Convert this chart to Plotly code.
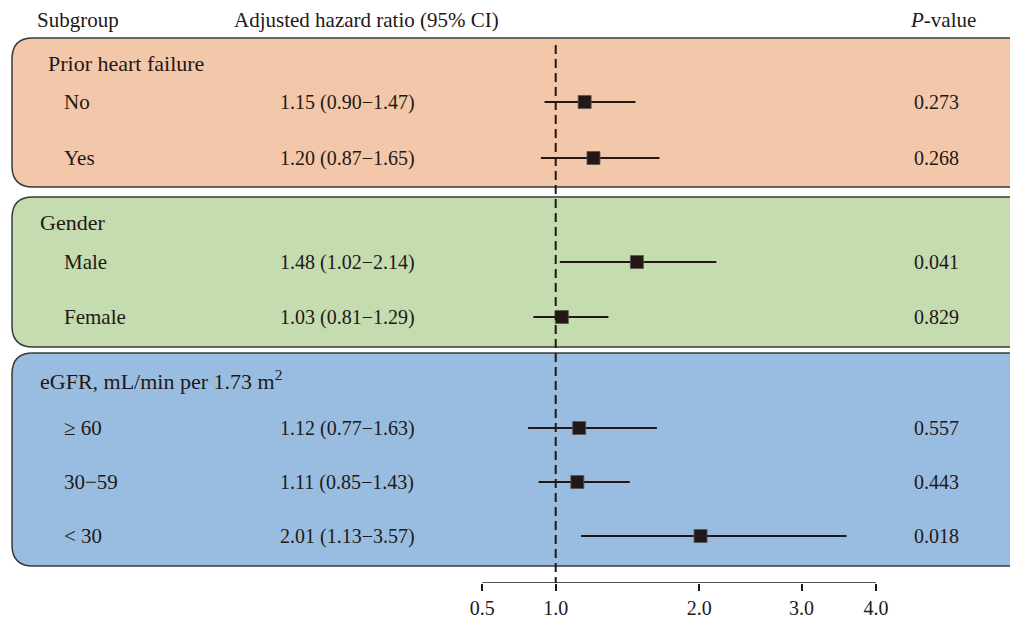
import numpy as np
import plotly.graph_objects as go

# ---------------- data ----------------
groups = ["Prior heart failure", "Gender", "eGFR, mL/min per 1.73 m<sup>2</sup>"]
subgroups = ["No", "Yes", "Male", "Female", "≥ 60", "30−59", "< 30"]
subgroup_group = [0, 0, 1, 1, 2, 2, 2]
hr = [1.15, 1.20, 1.48, 1.03, 1.12, 1.11, 2.01]
ci_low = [0.90, 0.87, 1.02, 0.81, 0.77, 0.85, 1.13]
ci_high = [1.47, 1.65, 2.14, 1.29, 1.63, 1.43, 3.57]
p_values = ["0.273", "0.268", "0.041", "0.829", "0.557", "0.443", "0.018"]
tick_values = [0.5, 1.0, 2.0, 3.0, 4.0]
tick_labels = ["0.5", "1.0", "2.0", "3.0", "4.0"]

# ---------------- scale (piecewise-log axis as in the original) ----------------
tick_px = [482.3, 555.7, 699.3, 801.5, 876.0]


def xs(v):
    return float(np.interp(np.log(v), np.log(tick_values), tick_px))


# layout positions (screen pixels from top-left)
group_y = [63, 222, 380]
group_x = [46, 38, 38]
row_y = [102, 158, 262, 317, 428, 482, 536]
panels = [(12, 38, 1030, 187, "#F3C7A9"), (12, 197, 1030, 347, "#C4DCB0"), (12, 353, 1030, 566, "#99BDE0")]

FONT = "Liberation Serif"
TXT = "#231815"
OFF = 8                    # page body margin offset
W, H = 1018 - OFF, 619 - OFF
AX_Y = 583

fig = go.Figure()


def rr(x0, y0, x1, y1, r):
    return (f"M {x0+r},{y0} L {x1-r},{y0} Q {x1},{y0} {x1},{y0+r} L {x1},{y1-r} "
            f"Q {x1},{y1} {x1-r},{y1} L {x0+r},{y1} Q {x0},{y1} {x0},{y1-r} "
            f"L {x0},{y0+r} Q {x0},{y0} {x0+r},{y0} Z")


shapes = []
for (x0, y0, x1, y1, c) in panels:
    shapes.append(dict(type="path", path=rr(x0, y0, x1, y1, 21), xref="x", yref="y",
                       fillcolor=c, line=dict(color="#3a3a3a", width=1.5), layer="below"))
# reference line at HR = 1
shapes.append(dict(type="line", x0=xs(1.0), x1=xs(1.0), y0=45, y1=AX_Y, xref="x", yref="y",
                   line=dict(color="#231815", width=2, dash="9px,5px")))
# axis line
shapes.append(dict(type="line", x0=xs(tick_values[0]), x1=xs(tick_values[-1]), y0=AX_Y, y1=AX_Y,
                   xref="x", yref="y", line=dict(color="#231815", width=1.5)))

# CI lines
lx, ly = [], []
for lo, hi, y in zip(ci_low, ci_high, row_y):
    lx += [xs(lo), xs(hi), None]
    ly += [y, y, None]
fig.add_trace(go.Scatter(x=lx, y=ly, mode="lines", line=dict(color=TXT, width=1.8),
                         hoverinfo="skip", showlegend=False))
fig.add_trace(go.Scatter(x=[xs(v) for v in hr], y=row_y, mode="markers",
                         marker=dict(symbol="square", size=13, color=TXT,
                                     line=dict(color="#555555", width=0.8)),
                         showlegend=False))

ann = []


def text(x, y, s, anchor="left", size=22):
    ann.append(dict(x=x, y=y, xref="x", yref="y", text=s, showarrow=False,
                    xanchor=anchor, yanchor="middle",
                    font=dict(family=FONT, size=size, color=TXT)))


text(35, 20, "Subgroup", size=21)
text(232, 20, "Adjusted hazard ratio (95% CI)", size=21)
text(978, 20, "<i>P</i>-value", "right", size=21)
for g, gy, gx in zip(groups, group_y, group_x):
    text(gx, gy, g)
for s, y, h, lo, hi, p in zip(subgroups, row_y, hr, ci_low, ci_high, p_values):
    text(62, y, s, size=21)
    text(278, y, f"{h:.2f} ({lo:.2f}−{hi:.2f})", size=20)
    text(961, y, p, "right", size=20)

fig.update_layout(
    width=W, height=H, margin=dict(l=0, r=0, t=0, b=H - (AX_Y - OFF)),
    paper_bgcolor="white", plot_bgcolor="rgba(0,0,0,0)",
    shapes=shapes, annotations=ann,
    xaxis=dict(range=[OFF, OFF + W], showgrid=False, zeroline=False, showline=False,
               tickmode="array", tickvals=[xs(v) for v in tick_values], ticktext=tick_labels,
               ticks="outside", ticklen=7, tickwidth=1.5, tickcolor=TXT,
               tickfont=dict(family=FONT, size=20, color=TXT)),
    yaxis=dict(range=[AX_Y, OFF], showgrid=False, zeroline=False, showline=False,
               showticklabels=False, ticks=""),
)

fig.write_html("out.html")
